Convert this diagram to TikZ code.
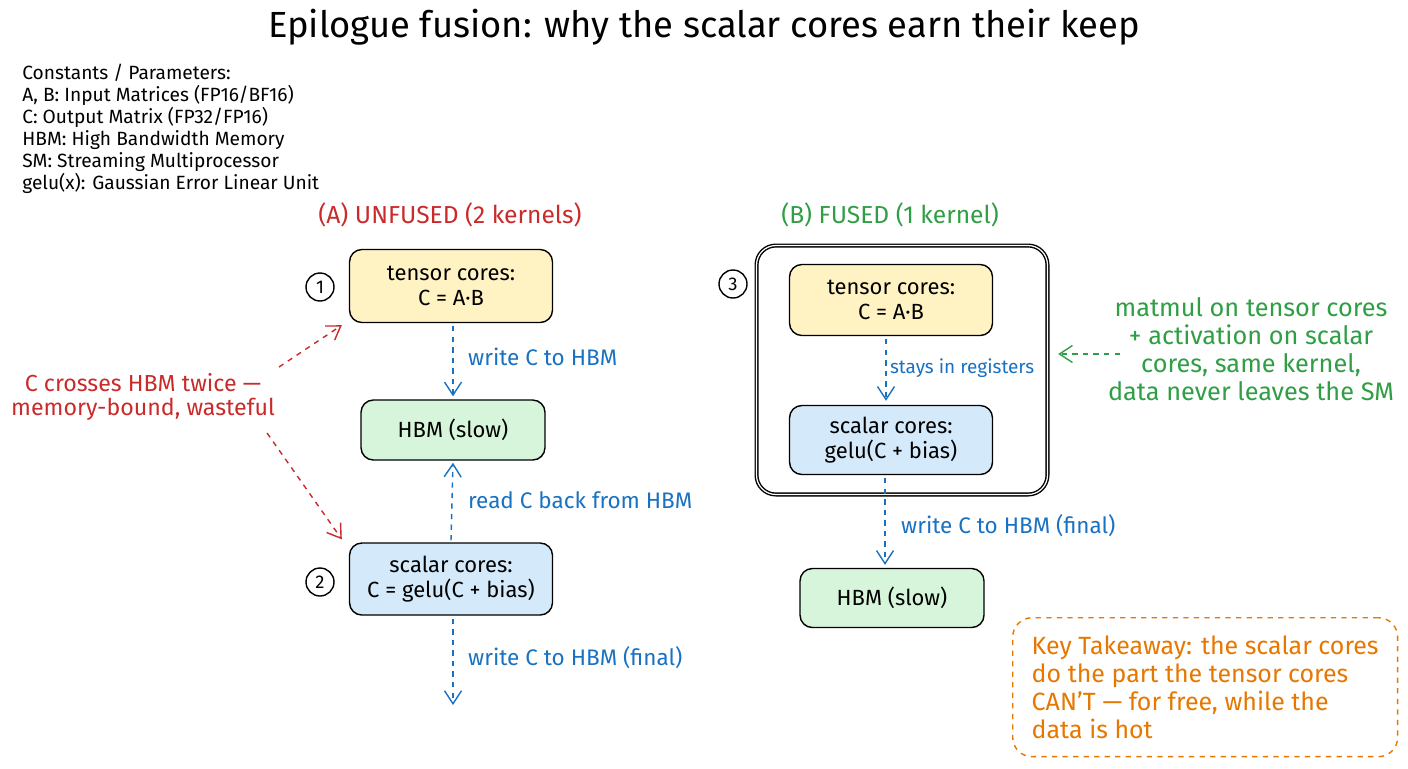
\documentclass[tikz,border=0pt]{standalone}
\usepackage{fontspec}
\setmainfont{Fira Sans}
\usetikzlibrary{arrows.meta,positioning,calc}
\definecolor{skred}{RGB}{201,42,42}
\definecolor{skgreen}{RGB}{47,158,68}
\definecolor{skblue}{RGB}{25,113,194}
\definecolor{skorange}{RGB}{230,119,0}
\definecolor{filltensor}{RGB}{255,243,196}
\definecolor{fillmem}{RGB}{214,245,218}
\definecolor{fillscalar}{RGB}{212,234,250}
\tikzset{
  blk/.style={draw=black, thick, rounded corners=7pt, align=center, inner sep=0pt,
              font=\fontsize{12.5}{14}\selectfont},
  tbox/.style={blk, fill=filltensor, minimum width=4.06cm, minimum height=1.46cm},
  sbox/.style={blk, fill=fillscalar, minimum width=4.06cm, minimum height=1.44cm},
  mbox/.style={blk, fill=fillmem, minimum width=3.68cm, minimum height=1.2cm},
  stepnum/.style={draw=black, thick, circle, minimum size=0.56cm, inner sep=0pt,
                  font=\fontsize{10.5}{12}\selectfont},
  flowarr/.style={-{Straight Barb[length=2.6mm, width=3.4mm]}, skblue, thick, dashed},
  flowlbl/.style={anchor=west, text=skblue, font=\fontsize{12.8}{14}\selectfont},
  notearr/.style={-{Straight Barb[length=2.6mm, width=3.4mm]}, thick, dashed},
  pcap/.style={font=\fontsize{14}{16}\selectfont},
}
\begin{document}
\begin{tikzpicture}[x=0.02cm, y=-0.02cm]
    \useasboundingbox (0,0) rectangle (1408,768);
    % title + legend
    \node[font=\fontsize{20.7}{24}\selectfont] (title) at (704,27)
      {Epilogue fusion: why the scalar cores earn their keep};
    \node[anchor=north west, align=left, inner sep=0pt, font=\fontsize{10.9}{12.5}\selectfont] (legend) at (22,64)
      {Constants / Parameters:\\ A, B: Input Matrices (FP16/BF16)\\ C: Output Matrix (FP32/FP16)\\
       HBM: High Bandwidth Memory\\ SM: Streaming Multiprocessor\\ gelu(x): Gaussian Error Linear Unit};
    % (A) unfused
    \node[pcap, text=skred] (capA) at (450,215) {(A) UNFUSED (2 kernels)};
    \node[tbox] (tensorA) at (451,286) {tensor cores:\\ C = A·B};
    \node[mbox] (hbmA) at (453,430) {HBM (slow)};
    \node[sbox] (scalarA) at (451,579) {scalar cores:\\ C = gelu(C + bias)};
    \node[stepnum] (numA) at (320,287) {1};
    \node[stepnum] (numB) at (320,582) {2};
    \coordinate (outA) at (453,705);
    \draw[flowarr] ($(tensorA.south)+(2,3)$) -- ($(hbmA.north)+(0,-3)$);
    \node[flowlbl] (lblwrA) at (462,357) {write C to HBM};
    \draw[flowarr] ($(scalarA.north)+(0,-2)$) -- ($(hbmA.south)+(0,2)$);
    \node[flowlbl] (lblrdA) at (462,500) {read C back from HBM};
    \draw[flowarr] ($(scalarA.south)+(2,3)$) -- (outA);
    \node[flowlbl] (lblfinA) at (462,658) {write C to HBM (final)};
    % red note
    \node[align=center, text=skred, font=\fontsize{13.2}{14}\selectfont] (crossnote) at (143,397)
      {C crosses HBM twice —\\ memory-bound, wasteful};
    \draw[notearr, skred] ($(crossnote.north east)+(-2,0)$) -- ($(tensorA.south west)+(-7,2)$);
    \draw[notearr, skred] ($(crossnote.south east)+(-14,6)$) -- ($(scalarA.north west)+(-7,-3)$);
    % (B) fused
    \node[pcap, text=skgreen] (capB) at (890,215) {(B) FUSED (1 kernel)};
    \node[draw=black, thick, double, double distance=0.7pt, rounded corners=11pt,
          minimum width=5.82cm, minimum height=4.98cm] (kernel) at (902,370) {};
    \node[stepnum] (numC) at (733,284) {3};
    \node[tbox, minimum height=1.42cm] (tensorB) at (891,300) {tensor cores:\\ C = A·B};
    \node[sbox, minimum height=1.38cm] (scalarB) at (891,440) {scalar cores:\\ gelu(C + bias)};
    \node[mbox, minimum height=1.18cm] (hbmB) at (892,598) {HBM (slow)};
    \draw[flowarr] ($(tensorB.south)+(-5,3)$) -- ($(scalarB.north)+(-5,-4)$);
    \node[flowlbl, font=\fontsize{10.8}{12}\selectfont, inner sep=1pt] (lblreg) at (888,368) {stays in registers};
    \draw[flowarr] ($(scalarB.south)+(-6,3)$) -- ($(hbmB.north)+(-7,-3)$);
    \node[flowlbl] (lblfinB) at (895,526) {write C to HBM (final)};
    % green note
    \node[align=center, text=skgreen, font=\fontsize{14.4}{16}\selectfont] (fusenote) at (1251,349)
      {matmul on tensor cores\\ + activation on scalar\\ cores, same kernel,\\ data never leaves the SM};
    \draw[notearr, skgreen] ($(fusenote.west)+(18,5)$) -- ($(kernel.east)+(10,-16)$);
    % takeaway
    \node[draw=skorange, thick, dashed, rounded corners=11pt, text=skorange, align=left,
          anchor=north west, minimum width=7.7cm, minimum height=2.78cm,
          font=\fontsize{14.2}{16}\selectfont] (takeaway) at (1012,617)
      {Key Takeaway: the scalar cores\\ do the part the tensor cores\\ CAN'T — for free, while the\\ data is hot};
\end{tikzpicture}
\end{document}
